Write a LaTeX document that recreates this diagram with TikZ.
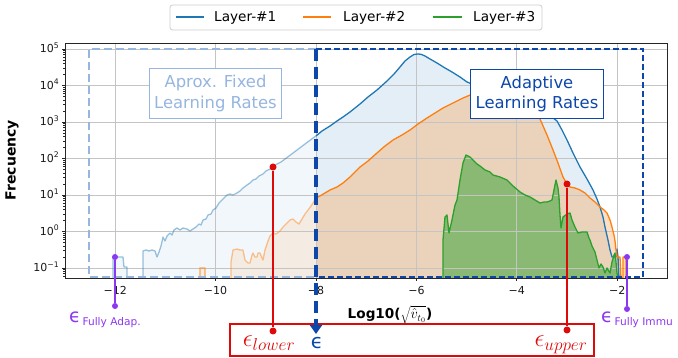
\documentclass[tikz,border=0pt]{standalone}
\usepackage{fontspec}
\setmainfont{DejaVu Sans}
\usetikzlibrary{arrows.meta}
\definecolor{cblue}{HTML}{1F77B4}
\definecolor{corange}{HTML}{FF7F0E}
\definecolor{cgreen}{HTML}{2CA02C}
\definecolor{dkblue}{RGB}{13,71,170}
\definecolor{ltblue}{RGB}{150,182,224}
\definecolor{ered}{RGB}{222,10,10}
\definecolor{epurple}{RGB}{140,55,240}
\definecolor{gridc}{RGB}{196,196,196}
\newcommand\tenp[1]{10\raisebox{0.42em}{\fontsize{7.7}{8}\selectfont #1}}
\def\BlueA{(113,278) -- (113,257) -- (123,257) -- (124,267) -- (127,267) -- (127,278)}
\def\BlueB{(143,278) -- (143,251) -- (146,250) -- (149,251) -- (152,250) -- (155,251) -- (157,257) -- (159,252) -- (161,246) -- (163,237) -- (165,241) -- (167,236) -- (170,233) -- (172,235) -- (174,230) -- (177,228) -- (180,230) -- (183,228) -- (187,229) -- (190,231) -- (193,229) -- (196,227) -- (199,224) -- (201,225) -- (203,220) -- (206,219) -- (208,215) -- (211,214) -- (213,210) -- (216,208) -- (219,203) -- (222,200) -- (225,197) -- (227,195) -- (230,194) -- (233,195) -- (237,193) -- (240,191) -- (243,188) -- (247,185) -- (250,183) -- (253,180) -- (256,179) -- (259,176) -- (263,174) -- (266,171) -- (270,169) -- (273,167) -- (277,164) -- (281,162) -- (285,159) -- (289,156) -- (293,153) -- (297,150) -- (301,147) -- (305,144) -- (309,141) -- (313,138) -- (316,136)}
\def\BlueC{(316,136) -- (322,131) -- (330,126) -- (337,121) -- (343,117) -- (350,112) -- (360,104) -- (368,97) -- (377,90) -- (387,81) -- (394,74) -- (400,67) -- (405,61) -- (410,57) -- (414,54.5) -- (418,54) -- (421,54.3) -- (425,56) -- (430,59) -- (437,63) -- (445,68) -- (452,72) -- (460,77) -- (467,82) -- (480,87) -- (500,96) -- (520,104) -- (540,112) -- (552,117) -- (557,121) -- (562,130) -- (567,140) -- (573,153) -- (580,167) -- (587,179) -- (593,190) -- (597,199) -- (600,207) -- (603,217) -- (605,227) -- (608,240) -- (610,250) -- (612,257) -- (616,257) -- (617,249) -- (618,257) -- (619,278)}
\def\OrangeA{(200,278) -- (200,268) -- (205,268) -- (205,278)}
\def\OrangeB{(231,278) -- (231,262) -- (233,250) -- (237,249) -- (240,250) -- (243,250) -- (245,260) -- (248,263) -- (250,263) -- (252,255) -- (253,253) -- (255,257) -- (257,257) -- (258,253) -- (260,253) -- (262,258) -- (263,260) -- (265,250) -- (268,241) -- (270,236) -- (273,233) -- (276,234) -- (280,231) -- (283,227) -- (287,223) -- (290,220) -- (293,219) -- (296,222) -- (299,224) -- (302,219) -- (305,214) -- (308,210) -- (311,206) -- (313,203) -- (316,198)}
\def\OrangeC{(316,198) -- (320,196) -- (325,193) -- (330,190) -- (337,187) -- (343,183) -- (350,177) -- (355,172) -- (360,167) -- (368,161) -- (377,153) -- (385,146) -- (393,140) -- (402,135) -- (410,130) -- (418,124) -- (427,118) -- (435,113) -- (443,108) -- (453,103) -- (463,98) -- (475,93) -- (490,90) -- (505,92) -- (520,98) -- (530,106) -- (540,119) -- (547,135) -- (553,150) -- (558,163) -- (563,177) -- (567,184) -- (570,187) -- (575,188) -- (580,190) -- (585,193) -- (590,198) -- (595,202) -- (600,207) -- (604,210) -- (607,213) -- (610,220) -- (612,227) -- (614,235) -- (615,241) -- (616,250) -- (617,257) -- (620,257) -- (621,278) -- (623,278) -- (623,257) -- (626,257) -- (626,278)}
\def\GreenA{(443,278) -- (443,240) -- (445,217) -- (447,215) -- (449,233) -- (452,220) -- (455,205) -- (457,200) -- (460,180) -- (463,163) -- (466,155) -- (470,157) -- (473,160) -- (477,164) -- (480,166) -- (485,170) -- (490,172) -- (493,175) -- (500,177) -- (507,180) -- (513,186) -- (520,192) -- (525,195) -- (530,197) -- (535,200) -- (540,203) -- (544,202) -- (547,202) -- (550,201) -- (552,200) -- (554,190) -- (556,180) -- (558,188) -- (559,197) -- (560,215) -- (561,228) -- (563,217) -- (567,214) -- (570,213) -- (572,220) -- (575,227) -- (578,233) -- (582,232) -- (587,232) -- (589,238) -- (590,240) -- (592,246) -- (595,252) -- (597,260) -- (599,268) -- (601,264) -- (603,267) -- (605,273) -- (607,268) -- (610,273) -- (612,262) -- (614,255) -- (615,253) -- (616,262) -- (617,273) -- (618,278)}
\tikzset{
  gridline/.style={draw=gridc, line width=0.8pt},
  tickstyle/.style={draw=black!85, line width=0.8pt},
  ticklab/.style={font=\fontsize{11}{13}\selectfont, inner sep=0pt, text=black!90},
  curve/.style={line width=1.3pt, line join=round},
  faded/.style={draw opacity=0.45},
  dot/.style={circle, inner sep=0pt, minimum size=7pt},
  pdot/.style={circle, inner sep=0pt, minimum size=6pt, fill=epurple},
  areabox/.style={fill=white, line width=1pt, align=center, font=\fontsize{16.4}{20.5}\selectfont, inner xsep=5pt, inner ysep=6.5pt},
  legtext/.style={anchor=base west, inner sep=0pt, font=\fontsize{13.6}{15}\selectfont}
}
\begin{document}
\begin{tikzpicture}[x=1pt,y=-1pt]
\useasboundingbox (0,0) rectangle (678,358);
% fills
\fill[cblue, fill opacity=0.06] \BlueA -- cycle;
\fill[cblue, fill opacity=0.06] \BlueB -- (316,278) -- cycle;
\fill[cblue, fill opacity=0.12] \BlueC -- (316,278) -- cycle;
\fill[corange, fill opacity=0.1] \OrangeA -- cycle;
\fill[corange, fill opacity=0.1] \OrangeB -- (316,278) -- cycle;
\fill[corange, fill opacity=0.25] \OrangeC -- (316,278) -- cycle;
\fill[cgreen, fill opacity=0.5] \GreenA -- cycle;
% grid
\foreach \v in {115.2,215.6,316,416.4,516.8,617.2} \draw[gridline] (\v,43) -- (\v,278);
\foreach \d in {0,...,6} \draw[gridline] (65,49+36.5*\d) -- (667,49+36.5*\d);
% curves
\draw[curve, cblue, faded] \BlueA;
\draw[curve, cblue, faded] \BlueB;
\draw[curve, cblue] \BlueC;
\draw[curve, corange, faded] \OrangeA;
\draw[curve, corange, faded] \OrangeB;
\draw[curve, corange] \OrangeC;
\draw[curve, cgreen] \GreenA;
% dashed region boxes
\draw[ltblue, line width=2pt, dash pattern=on 8pt off 4pt] (316,49) -- (89,49) -- (89,277) -- (316,277);
\draw[dkblue, line width=2.2pt, dash pattern=on 6pt off 3pt] (316,49) -- (643,49) -- (643,277) -- (316,277);
% region labels
\node[areabox, draw=ltblue, text=ltblue] (fixedlab) at (215.5,93.5) {Aprox. Fixed\\Learning Rates};
\node[areabox, draw=dkblue, text=dkblue] (adaptlab) at (537,94) {Adaptive\\Learning Rates};
% frame and ticks
\draw[black!85, line width=0.9pt] (65,43) rectangle (667,278);
\foreach \v/\lab in {115.2/−12,215.6/−10,316/−8,416.4/−6,516.8/−4,617.2/−2} {
  \draw[tickstyle] (\v,278) -- (\v,281.5);
  \node[ticklab, anchor=base] (xt\lab) at (\v,294.5) {\lab};
}
\foreach \d/\lab in {5/5,4/4,3/3,2/2,1/1,0/0,-1/−1} {
  \draw[tickstyle] (65,49+36.5*5-36.5*\d) -- (61.5,49+36.5*5-36.5*\d);
  \node[ticklab, anchor=base east] (yt\d) at (59,53+36.5*5-36.5*\d) {\tenp{\lab}};
}
\begin{scope}
\clip (55,43) rectangle (667,278);
\foreach \d in {-2,...,4} \foreach \k in {2,...,9}
  \draw[tickstyle, line width=0.6pt] (65,{49+36.5*(5-\d-log10(\k))}) -- (63,{49+36.5*(5-\d-log10(\k))});
\end{scope}
% axis labels
\node[inner sep=0pt, font=\fontsize{13.6}{15}\selectfont, anchor=base] (xlab) at (390,319) {\textbf{Log10(}{\fontsize{14.5}{16}\selectfont$\sqrt{\hat{v}_{t_0}}$}\textbf{)}};
\node[inner sep=0pt, rotate=90, font=\fontsize{14}{15}\selectfont\bfseries] (ylab) at (12,160) {Frecuency};
% legend
\draw[rounded corners=2.5pt, draw=black!20, fill=white, fill opacity=0.8, line width=0.8pt] (170,5) rectangle (542,30);
\coordinate (l1a) at (176,17); \coordinate (l1b) at (204,17);
\coordinate (l2a) at (303,17); \coordinate (l2b) at (331,17);
\coordinate (l3a) at (433,17); \coordinate (l3b) at (462,17);
\draw[curve, cblue] (l1a) -- (l1b);
\draw[curve, corange] (l2a) -- (l2b);
\draw[curve, cgreen] (l3a) -- (l3b);
\node[legtext] (leg1) at (214,22) {Layer-\#1};
\node[legtext] (leg2) at (343,22) {Layer-\#2};
\node[legtext] (leg3) at (473,22) {Layer-\#3};
% epsilon box
\node[draw=ered, line width=1.3pt, minimum width=364pt, minimum height=32pt, inner sep=0pt] (ebox) at (412,340) {};
\coordinate (eps) at (316,334);
\draw[dkblue, line width=4.5pt, dash pattern=on 12pt off 6pt, -{Triangle[length=9pt,width=12pt]}] (316,49) -- (eps);
\node[dot, fill=ered] (lowtop) at (273,167) {};
\node[dot, fill=ered] (lowbot) at (273,331) {};
\node[dot, fill=ered] (uptop) at (567,184) {};
\node[dot, fill=ered] (upbot) at (567,330) {};
\draw[ered, line width=1.5pt] (lowtop) -- (lowbot);
\draw[ered, line width=1.5pt] (uptop) -- (upbot);
\node[text=ered, inner sep=0pt, anchor=base, font=\fontsize{26}{30}\selectfont] (elow) at (269,347) {$\epsilon_{lower}$};
\node[text=ered, inner sep=0pt, anchor=base, font=\fontsize{26}{30}\selectfont] (eup) at (561,347) {$\epsilon_{upper}$};
\node[text=dkblue, inner sep=0pt, anchor=base, font=\fontsize{20}{22}\selectfont] (epsl) at (317,348.5) {ϵ};
% purple markers
\node[pdot] (fatop) at (115,257) {};
\node[pdot] (fabot) at (115,306) {};
\node[pdot] (fitop) at (627,257) {};
\node[pdot] (fibot) at (627,309) {};
\draw[epurple, line width=1.3pt] (fatop) -- (fabot);
\draw[epurple, line width=1.3pt] (fitop) -- (fibot);
\node[text=epurple, inner sep=0pt, anchor=base west] (falab) at (69,323) {{\fontsize{19}{20}\selectfont ϵ}\,\raisebox{-3pt}{\fontsize{10.6}{12}\selectfont Fully Adap.}};
\node[text=epurple, inner sep=0pt, anchor=base west] (filab) at (601,323) {{\fontsize{19}{20}\selectfont ϵ}\,\raisebox{-3pt}{\fontsize{10.6}{12}\selectfont Fully Immu}};
\end{tikzpicture}
\end{document}
